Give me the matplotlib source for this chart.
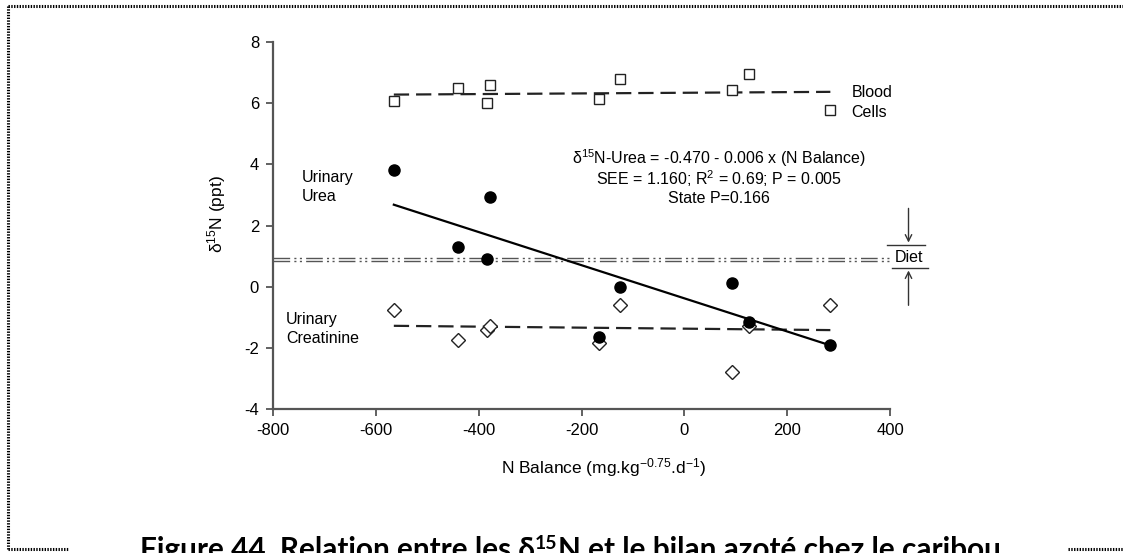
import matplotlib
matplotlib.use('Agg')
import matplotlib.pyplot as plt
from matplotlib.lines import Line2D
import numpy as np

plt.rc('font', family='Liberation Sans', size=11.5)
plt.rc('mathtext', fontset='custom', rm='Liberation Sans',
       it='Liberation Sans:italic', bf='Liberation Sans:bold')
plt.rc('lines', scale_dashes=False)
plt.rc('axes', unicode_minus=False)

W, H = 1123, 553

# values
n_balance   = [-565, -440, -383, -377, -166, -126, 93, 125, 284]
blood_cells = [6.08, 6.48, 6.01, 6.59, 6.15, 6.78, 6.43, 6.95, 5.77]
urea        = [3.83, 1.29, 0.91, 2.93, -1.64, -0.02, 0.12, -1.14, -1.90]
creatinine  = [-0.77, -1.74, -1.42, -1.30, -1.83, -0.60, -2.79, -1.28, -0.59]

fit_x      = [-565, 284]
blood_fit  = [6.28, 6.37]
urea_fit   = [2.68, -1.92]
creat_fit  = [-1.28, -1.42]
diet       = [0.85, 0.95]

xticks = [-800, -600, -400, -200, 0, 200, 400]
yticks = [-4, -2, 0, 2, 4, 6, 8]

stats_lines = ['\u03b4$^{15}$N-Urea = -0.470 - 0.006 x (N Balance)',
               'SEE = 1.160; R$^2$ = 0.69; P = 0.005',
               'State P=0.166']

fig = plt.figure(figsize=(W / 100, H / 100), dpi=100)
ax = fig.add_axes([273 / W, 1 - 409 / H, (890 - 273) / W, (409 - 42) / H])

# diet reference (double dash-dot-dot line)
for d in diet:
    ax.plot([-800, 400], [d, d], color='#555555', lw=1.0,
            dashes=(12, 3, 1.5, 2.5, 1.5, 3))

ax.plot(fit_x, blood_fit, color='#222222', lw=1.6, dashes=(11, 5))
ax.plot(fit_x, creat_fit, color='#222222', lw=1.6, dashes=(11, 5))
ax.plot(fit_x, urea_fit, color='black', lw=1.6)

ax.plot(n_balance, blood_cells, 's', ms=7.5, mfc='white', mec='#222222',
        mew=1.0, zorder=4)
ax.plot(n_balance, creatinine, 'D', ms=7, mfc='white', mec='#222222',
        mew=1.0, zorder=4)
ax.plot(n_balance, urea, 'o', ms=8, color='black', zorder=5)

ax.set_xlim(-800, 400)
ax.set_ylim(-4, 8)
ax.set_xticks(xticks)
ax.set_yticks(yticks)
for s in ['top', 'right']:
    ax.spines[s].set_visible(False)
for s in ['left', 'bottom']:
    ax.spines[s].set_color('#555555')
    ax.spines[s].set_linewidth(1.6)
ax.tick_params(length=5, width=1.3, color='#555555', pad=5, labelsize=12)

ax.set_xlabel('N Balance (mg.kg$^{-0.75}$.d$^{-1}$)', fontsize=12.5)
ax.xaxis.set_label_coords(0.535, -0.128)
ax.set_ylabel('\u03b4$^{15}$N (ppt)', fontsize=12.5)
ax.yaxis.set_label_coords(-0.073, 0.53)

ax.text(325, 6.02, 'Blood\nCells', fontsize=11.5, ha='left', va='center',
        linespacing=1.35)
ax.text(-745, 3.25, 'Urinary\nUrea', fontsize=11.5, ha='left', va='center',
        linespacing=1.35)
ax.text(-775, -1.39, 'Urinary\nCreatinine', fontsize=11.5, ha='left',
        va='center', linespacing=1.35)
for i, line in enumerate(stats_lines):
    ax.text(67, 4.2 - 0.66 * i, line, fontsize=11.5, ha='center',
            va='center')

# diet bracket to the right of the axes
ax.plot([395, 468], [1.35, 1.35], color='#333333', lw=1.0, clip_on=False)
ax.plot([403, 474], [0.62, 0.62], color='#333333', lw=1.0, clip_on=False)
ax.text(437, 0.95, 'Diet', fontsize=11.5, ha='center', va='center')
ax.annotate('', xy=(436, 1.35), xytext=(436, 2.65),
            arrowprops=dict(arrowstyle='->', color='#333333', lw=1.0),
            annotation_clip=False)
ax.annotate('', xy=(436, 0.62), xytext=(436, -0.7),
            arrowprops=dict(arrowstyle='->', color='#333333', lw=1.0),
            annotation_clip=False)

# dotted frame
dot = dict(color='black', lw=2.2, linestyle=(0, (1, 1)))
fig.add_artist(Line2D([8 / W, 8 / W], [1 - 6 / H, 1 - 549 / H], **dot))
fig.add_artist(Line2D([8 / W, 1], [1 - 6 / H, 1 - 6 / H], **dot))
fig.add_artist(Line2D([8 / W, 68 / W], [1 - 549 / H, 1 - 549 / H], **dot))
fig.add_artist(Line2D([1068 / W, 1], [1 - 549 / H, 1 - 549 / H], **dot))

# caption, partly cut off at the bottom
r = fig.canvas.get_renderer()
cap_size = 21.4
x = 140
base = 559
parts = [('Figure 44. Relation entre les \u03b4', cap_size, 0),
         ('15', cap_size * 0.65, 10),
         ('N et le bilan azot\u00e9 chez le caribou', cap_size, 0)]
for s, size, dy in parts:
    t = fig.text(x / W, (H - base + dy) / H, s, fontsize=size,
                 fontweight='bold', family=['Lato', 'DejaVu Sans'],
                 ha='left', va='baseline')
    x = t.get_window_extent(r).x1

fig.savefig('out.png', dpi=100)
